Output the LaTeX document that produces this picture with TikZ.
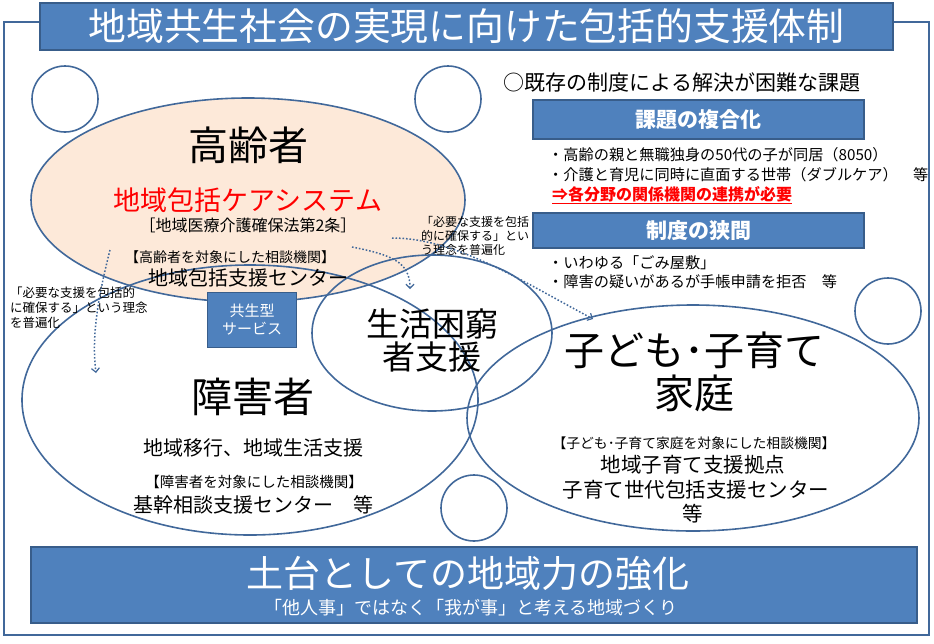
\documentclass[tikz,border=0pt]{standalone}
\usepackage{fontspec}
\setmainfont{Noto Sans CJK JP}
\usetikzlibrary{shapes.geometric,arrows.meta}
\definecolor{lineblue}{HTML}{41689A}
\definecolor{boxblue}{HTML}{4F81BD}
\definecolor{boxedge}{HTML}{385D8A}
\definecolor{peach}{HTML}{FDE9D9}
\definecolor{redtxt}{HTML}{FF0000}
\newcommand\jfs[1]{\fontsize{#1}{#1}\selectfont}
\begin{document}
\begin{tikzpicture}[x=1pt,y=-1pt,
  bluebox/.style={draw=boxedge,line width=1.2pt,fill=boxblue,text=white,inner sep=0pt,align=center},
  ellbox/.style={ellipse,draw=lineblue,line width=1.6pt,inner sep=0pt},
  ring/.style={circle,draw=lineblue,line width=1.6pt,inner sep=0pt,minimum size=66pt},
  txt/.style={inner sep=0pt,text=black},
  dotarrow/.style={draw=lineblue,line width=1.5pt,dash pattern=on 1.6pt off 1.9pt,
    -{Straight Barb[length=4pt,width=8pt,line width=1.2pt]}}]
\useasboundingbox (0,0) rectangle (934,643);
% outer frame
\draw[lineblue,line width=1.5pt] (4,22) rectangle (929,635);
% title
\node[bluebox,minimum width=853pt,minimum height=47pt] (title) at (466.5,26.5)
  {\jfs{37.8}地域共生社会の実現に向けた包括的支援体制};
% small circles
\node[ring] (r1) at (65,99) {};
\node[ring] (r2) at (448,99) {};
\node[ring] (r3) at (888,311) {};
\node[ring] (r4) at (474,508) {};
% ellipses
\node[ellbox,fill=peach,minimum width=434pt,minimum height=204pt] (elder) at (248,200) {};
\node[ellbox,minimum width=456pt,minimum height=270pt] (disab) at (250,400) {};
\node[ellbox,minimum width=240pt,minimum height=156pt] (pov) at (432,333) {};
\node[ellbox,minimum width=452pt,minimum height=226pt] (child) at (693,418) {};
% kyosei box
\node[bluebox,minimum width=89pt,minimum height=55pt,font={\fontsize{15}{18}\selectfont}] (kyosei) at (252,320)
  {共生型\\サービス};
% elder texts
\node[txt] (t1) at (248,145) {\jfs{40}高齢者};
\node[txt,text=redtxt] (t2) at (248,200) {\jfs{27}地域包括ケアシステム};
\node[txt] (t3) at (248,225) {\jfs{16}［地域医療介護確保法第2条］};
\node[txt] (t4) at (230,257) {\jfs{14}【高齢者を対象にした相談機関】};
\node[txt] (t5) at (248,278) {\jfs{20}地域包括支援センター};
% notes
\node[txt,anchor=west,align=left,font={\fontsize{12.5}{15}\selectfont}] (n1) at (10,308)
  {「必要な支援を包括的\\に確保する」という理念\\を普遍化};
\node[txt,anchor=west,align=left,font={\fontsize{12}{14}\selectfont}] (n2) at (421,236)
  {「必要な支援を包括\\的に確保する」とい\\う理念を普遍化};
% right panel
\node[txt] (h1) at (682,82) {\jfs{21}○既存の制度による解決が困難な課題};
\node[bluebox,minimum width=331pt,minimum height=39pt] (b1) at (698.5,119.5)
  {\jfs{21}\bfseries 課題の複合化};
\node[txt,anchor=west] (l1) at (548,155) {\jfs{15.2}・高齢の親と無職独身の50代の子が同居（8050）};
\node[txt,anchor=west] (l2) at (548,175) {\jfs{15.2}・介護と育児に同時に直面する世帯（ダブルケア）　等};
\node[txt,anchor=west,text=redtxt] (l3) at (552,195) {\jfs{16}\bfseries\underline{⇒各分野の関係機関の連携が必要}};
\node[bluebox,minimum width=331pt,minimum height=35pt] (b2) at (698.5,230.5)
  {\jfs{21}\bfseries 制度の狭間};
\node[txt,anchor=west] (l4) at (548,263) {\jfs{15.2}・いわゆる「ごみ屋敷」};
\node[txt,anchor=west] (l5) at (548,282) {\jfs{15.2}・障害の疑いがあるが手帳申請を拒否　等};
% disabled texts
\node[txt] (d1) at (253,397) {\jfs{41}障害者};
\node[txt] (d2) at (253,448) {\jfs{20}地域移行、地域生活支援};
\node[txt] (d3) at (254,482) {\jfs{14.5}【障害者を対象にした相談機関】};
\node[txt] (d4) at (253,505) {\jfs{20}基幹相談支援センター　等};
% poverty
\node[txt,align=center,font={\fontsize{33}{33}\selectfont}] (p1) at (432,341) {生活困窮\\者支援};
% child texts
\node[txt] (k1) at (694,350) {\jfs{40}子ども･子育て};
\node[txt] (k2) at (694,393) {\jfs{40}家庭};
\node[txt] (k3) at (694,443) {\jfs{13.8}【子ども･子育て家庭を対象にした相談機関】};
\node[txt] (k4) at (693,465) {\jfs{20.5}地域子育て支援拠点};
\node[txt] (k5) at (696,490) {\jfs{20.5}子育て世代包括支援センター};
\node[txt] (k6) at (693,514) {\jfs{20.5}等};
% bottom
\node[bluebox,minimum width=886pt,minimum height=76pt] (base) at (474,585) {};
\node[txt,text=white] (bt) at (468,574) {\jfs{37}土台としての地域力の強化};
\node[txt,text=white] (bs) at (471,608) {\jfs{18}「他人事」ではなく「我が事」と考える地域づくり};
% dotted arrows
\coordinate (a1s) at (110,250); \coordinate (a1e) at (96,373);
\coordinate (a2s) at (352,247); \coordinate (a2e) at (410,289);
\coordinate (a3s) at (392,238); \coordinate (a3e) at (593,319);
\draw[dotarrow] (a1s) .. controls (96,305) and (92,340) .. (a1e);
\draw[dotarrow] (a2s) .. controls (392,255) and (410,262) .. (a2e);
\draw[dotarrow] (a3s) .. controls (455,238) and (520,280) .. (a3e);
\end{tikzpicture}
\end{document}
